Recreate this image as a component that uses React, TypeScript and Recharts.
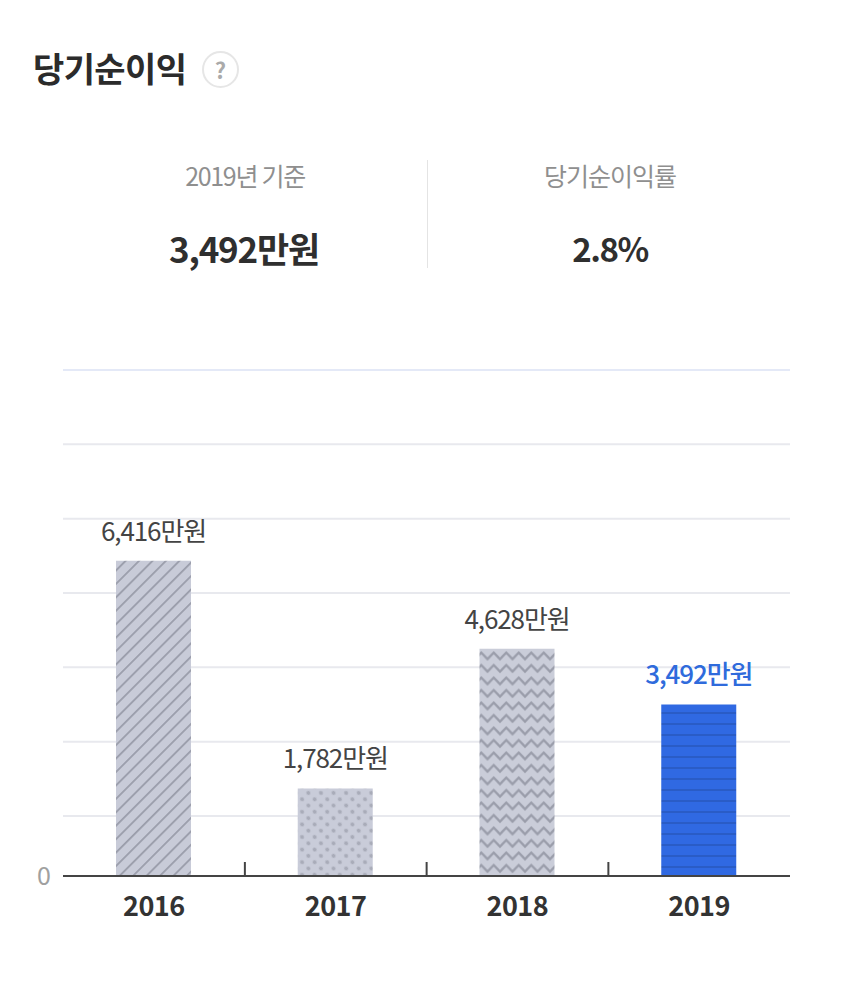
import React from "react";
import { BarChart, Bar, XAxis, YAxis, CartesianGrid, Cell, LabelList, ReferenceLine } from "recharts";

const years = ["2016", "2017", "2018", "2019"];
const profit = [6416, 1782, 4628, 3492];
const labels = ["6,416만원", "1,782만원", "4,628만원", "3,492만원"];
const fills = ["url(#hatch)", "url(#dots)", "url(#zigzag)", "url(#stripes)"];
const gridTicks = [0, 1222, 2735, 4248, 5761, 7274, 8787, 10300];
const axisTop = 10300;
const data = years.map((year, i) => ({ year, profit: profit[i], label: labels[i] }));
const FONT = '"Noto Sans CJK KR", "Noto Sans", sans-serif';

const XTick = (props: any) => {
  const { x, y, payload, index } = props;
  const i = index ?? payload.index;
  return (
    <g>
      {i < years.length - 1 && <line x1={x + 91} x2={x + 91} y1={862} y2={876} stroke="#444" strokeWidth={2} />}
      <text x={x} y={y + 32} textAnchor="middle" fontSize={27} fontWeight={700} letterSpacing={-0.5} fill="#333" fontFamily={FONT}>
        {payload.value}
      </text>
    </g>
  );
};

const BarLabel = (props: any) => {
  const { x, y, width, value, index } = props;
  const last = index === 3;
  return (
    <text x={x + width / 2} y={y - 20} textAnchor="middle" fontSize={26} letterSpacing={-1.1}
      fontWeight={last ? 500 : 400} fill={last ? "#2f6bdc" : "#444"} fontFamily={FONT}>
      {value}
    </text>
  );
};

const cell: React.CSSProperties = { position: "absolute", whiteSpace: "nowrap", fontFamily: FONT, transform: "translateX(-50%)" };

export default function App() {
  return (
    <div style={{ position: "absolute", left: 0, top: 0, width: 850, height: 988, background: "#fff", overflow: "hidden" }}>
      <div style={{ position: "absolute", left: 33, top: 44, fontFamily: FONT, fontSize: 34, fontWeight: 700, color: "#2b2b2b", lineHeight: "48px", letterSpacing: -0.6 }}>당기순이익</div>
      <div style={{ position: "absolute", left: 202, top: 51, width: 33, height: 33, border: "2px solid #e6e6e6", borderRadius: "50%", textAlign: "center", lineHeight: "33px", fontFamily: FONT, fontSize: 22, fontWeight: 700, color: "#aaa" }}>?</div>
      <div style={{ ...cell, left: 245, top: 157, fontSize: 25, color: "#8f8f8f", lineHeight: "36px", letterSpacing: -1.3 }}>2019년 기준</div>
      <div style={{ ...cell, left: 244, top: 225, fontSize: 35, fontWeight: 700, color: "#2f2f2f", lineHeight: "46px", letterSpacing: -1.2 }}>3,492만원</div>
      <div style={{ position: "absolute", left: 427, top: 160, width: 1, height: 108, background: "#e4e4e4" }} />
      <div style={{ ...cell, left: 610, top: 157, fontSize: 25, color: "#8f8f8f", lineHeight: "36px", letterSpacing: -1 }}>당기순이익률</div>
      <div style={{ ...cell, left: 610, top: 225, fontSize: 33, fontWeight: 700, color: "#2f2f2f", lineHeight: "46px", letterSpacing: -1.5 }}>2.8%</div>

      <div style={{ position: "absolute", left: 0, top: 0 }}>
        <BarChart width={850} height={988} data={data} margin={{ top: 370, left: 23, right: 60, bottom: 0 }} barCategoryGap={0}>
          <defs>
            <pattern id="hatch" width="9.5" height="9.5" patternUnits="userSpaceOnUse" patternTransform="rotate(45)">
              <rect width="9.5" height="9.5" fill="#c8cbd8" />
              <rect x="0" width="1.8" height="9.5" fill="#9a9dab" />
            </pattern>
            <pattern id="dots" width="8.9" height="8.9" patternUnits="userSpaceOnUse" patternTransform="rotate(45)">
              <rect width="8.9" height="8.9" fill="#c9ccd9" />
              <circle cx="4.45" cy="4.45" r="2.1" fill="#a9acb9" />
            </pattern>
            <pattern id="zigzag" width="12.5" height="12.5" patternUnits="userSpaceOnUse">
              <rect width="12.5" height="12.5" fill="#cacdd9" />
              <path d="M-1.5 10.7 L6.25 2.5 L14 10.7" fill="none" stroke="#9a9daa" strokeWidth="2.2" />
            </pattern>
            <pattern id="stripes" width="10" height="11" patternUnits="userSpaceOnUse">
              <rect width="10" height="11" fill="#3069e2" />
              <rect y="8" width="10" height="2" fill="#2a5cc6" />
            </pattern>
          </defs>
          <CartesianGrid horizontal vertical={false} stroke="#e8e9ee" strokeWidth={2} />
          <ReferenceLine y={axisTop} stroke="#e4e9f7" strokeWidth={2} />
          <XAxis dataKey="year" height={112} tickLine={false} interval={0} axisLine={{ stroke: "#444", strokeWidth: 2 }} tick={<XTick />} />
          <YAxis width={40} domain={[0, axisTop]} ticks={gridTicks} axisLine={false} tickLine={false} tickMargin={6}
            tick={{ fontSize: 25, fill: "#a0a0a0", fontFamily: FONT }} tickFormatter={(v: number) => (v === 0 ? "0" : "")} />
          <Bar dataKey="profit" barSize={75} isAnimationActive={false}>
            {data.map((d, i) => <Cell key={d.year} fill={fills[i]} />)}
            <LabelList dataKey="label" content={<BarLabel />} />
          </Bar>
        </BarChart>
      </div>
    </div>
  );
}
